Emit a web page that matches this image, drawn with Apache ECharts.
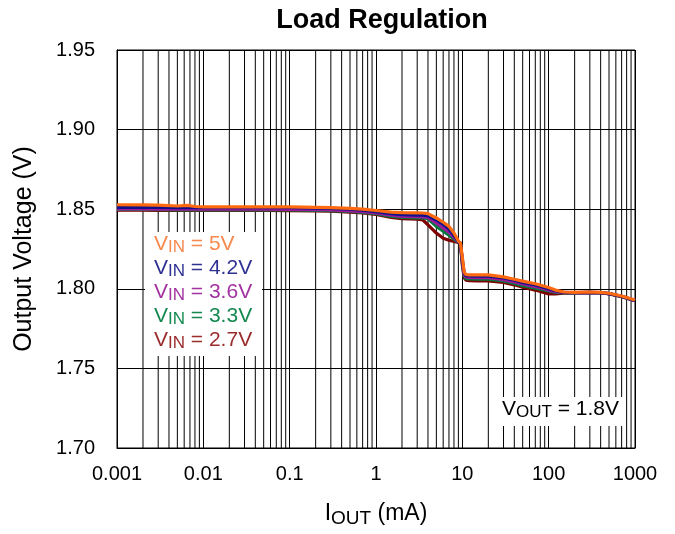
<!DOCTYPE html>
<html>
<head>
<meta charset="utf-8">
<script src="https://cdn.jsdelivr.net/npm/echarts@6/dist/echarts.min.js"></script>
<style>
html,body{margin:0;padding:0;background:#fff;}
#chart{width:675px;height:534px;}
</style>
</head>
<body>
<div id="chart"></div>
<script>
// ---- data ----
var iout = [0.001, 0.002, 0.003, 0.005, 0.0065, 0.008, 0.01, 0.02, 0.05, 0.1, 0.2, 0.3, 0.5, 0.7, 1, 1.5, 2, 3, 3.5, 4, 5, 6, 7, 8, 9, 9.5, 10, 10.5, 11, 12, 15, 20, 30, 40, 50, 70, 100, 120, 150, 200, 300, 400, 500, 700, 1000];
var vin5 = [1.8528,1.8527,1.8525,1.8520,1.8524,1.8517,1.8515,1.8515,1.8515,1.8514,1.8512,1.8510,1.8505,1.8500,1.8492,1.8482,1.8478,1.8477,1.8476,1.8472,1.8445,1.8418,1.8392,1.8350,1.8300,1.8288,1.8200,1.8105,1.8090,1.8088,1.8088,1.8087,1.8075,1.8060,1.8048,1.8032,1.8008,1.7992,1.7980,1.7977,1.7980,1.7977,1.7972,1.7955,1.7930];
var vin42 = [1.8512,1.8512,1.8511,1.8510,1.8511,1.8510,1.8510,1.8510,1.8510,1.8509,1.8507,1.8505,1.8500,1.8494,1.8485,1.8472,1.8465,1.8463,1.8462,1.8458,1.8432,1.8405,1.8375,1.8335,1.8296,1.8287,1.8185,1.8100,1.8083,1.8081,1.8080,1.8080,1.8068,1.8054,1.8040,1.8024,1.8000,1.7988,1.7977,1.7976,1.7978,1.7976,1.7970,1.7953,1.7927];
var vin36 = [1.8502,1.8502,1.8501,1.8500,1.8501,1.8500,1.8500,1.8500,1.8500,1.8499,1.8497,1.8495,1.8490,1.8485,1.8477,1.8462,1.8455,1.8453,1.8452,1.8448,1.8412,1.8382,1.8356,1.8322,1.8294,1.8287,1.8170,1.8090,1.8074,1.8071,1.8070,1.8070,1.8058,1.8043,1.8030,1.8014,1.7992,1.7982,1.7976,1.7976,1.7978,1.7976,1.7970,1.7953,1.7927];
var vin33 = [1.8498,1.8498,1.8497,1.8496,1.8497,1.8496,1.8496,1.8496,1.8496,1.8495,1.8493,1.8491,1.8486,1.8480,1.8472,1.8455,1.8448,1.8446,1.8445,1.8440,1.8392,1.8362,1.8336,1.8312,1.8293,1.8287,1.8160,1.8080,1.8064,1.8062,1.8061,1.8060,1.8050,1.8034,1.8020,1.8004,1.7986,1.7978,1.7975,1.7975,1.7977,1.7975,1.7969,1.7952,1.7926];
var vin27 = [1.8494,1.8494,1.8493,1.8492,1.8493,1.8492,1.8492,1.8492,1.8492,1.8491,1.8489,1.8487,1.8482,1.8476,1.8467,1.8448,1.8440,1.8438,1.8432,1.8402,1.8350,1.8318,1.8305,1.8298,1.8291,1.8287,1.8150,1.8070,1.8054,1.8051,1.8050,1.8050,1.8040,1.8025,1.8010,1.7992,1.7968,1.7968,1.7972,1.7974,1.7976,1.7975,1.7968,1.7951,1.7925];
var xTickLabels = ['0.001','0.01','0.1','1','10','100','1000'];
var yTickLabels = ['1.70','1.75','1.80','1.85','1.90','1.95'];
var minorGrid = [];
[0.001,0.01,0.1,1,10,100].forEach(function(d){ for (var m=2;m<=9;m++) minorGrid.push(+(d*m).toPrecision(3)); });
var seriesNames = ['2.7V','3.3V','3.6V','4.2V','5V'];
var seriesData = [vin27, vin33, vin36, vin42, vin5];
var lineColors = ['#7f0000','#007a3d','#9a1a9a','#10108a','#ff6a10'];
var textColors = ['#9b2c2c','#14894f','#a2329f','#2f3193','#f7884e'];

function pairs(ys){ return iout.map(function(x,i){ return [x, ys[i]]; }); }

var FONT = 'Liberation Sans, Arial, sans-serif';
var chart = echarts.init(document.getElementById('chart'), null, {renderer:'canvas'});

var series = [{
  type:'custom', z:1, silent:true,
  data: minorGrid.map(function(v){ return [v]; }),
  renderItem: function(params, api){
    var p1 = api.coord([api.value(0), 1.70]);
    var p2 = api.coord([api.value(0), 1.95]);
    return {type:'line', shape:{x1:p1[0],y1:p1[1],x2:p2[0],y2:p2[1]}, style:{stroke:'#000', lineWidth:1}};
  }
}];
seriesNames.forEach(function(n,i){
  series.push({
    name: n, type:'line', z: 5+i, data: pairs(seriesData[i]),
    showSymbol:false, symbol:'none', smooth:false,
    lineStyle:{color: lineColors[i], width:3.2}
  });
});

var legendOrder = [4,3,2,1,0];
var legendTexts = legendOrder.map(function(idx, k){
  return {
    type:'text', z:100, left:154, top: 234 + k*24,
    style:{
      text:'{v|V}{s|IN}{v| = ' + seriesNames[idx] + '}',
      rich:{
        v:{fontSize:21, fontFamily:FONT, fill:textColors[idx], verticalAlign:'bottom', padding:[0,0,1,0]},
        s:{fontSize:17, fontFamily:FONT, fill:textColors[idx], verticalAlign:'bottom'}
      }
    }
  };
});

var option = {
  backgroundColor:'#fff',
  animation:false,
  title:{
    text:'Load Regulation', left:377, top:2, textAlign:'center',
    textStyle:{fontSize:27, fontWeight:'bold', fontFamily:FONT, color:'#000'}
  },
  grid:{left:117, top:50, right:40, bottom:86, show:true, borderColor:'#000', borderWidth:1, backgroundColor:'#fff'},
  xAxis:{
    type:'log', logBase:10, min:0.001, max:1000,
    name:'{a|I}{b|OUT}{a| (mA)}', nameLocation:'middle', nameGap:54,
    nameTextStyle:{
      rich:{
        a:{fontSize:23, fontFamily:FONT, color:'#000', verticalAlign:'bottom', padding:[0,0,3,0]},
        b:{fontSize:19, fontFamily:FONT, color:'#000', verticalAlign:'bottom'}
      }
    },
    axisLine:{show:true, lineStyle:{color:'#000', width:1}},
    axisTick:{show:false},
    splitLine:{show:true, lineStyle:{color:'#000', width:1}},
    axisLabel:{
      fontSize:20, fontFamily:FONT, color:'#000', margin:16,
      formatter:function(v){ return xTickLabels[Math.round(Math.log10(v))+3]; }
    }
  },
  yAxis:{
    type:'value', min:1.70, max:1.95, interval:0.05,
    name:'Output Voltage (V)', nameLocation:'middle', nameGap:80,
    nameTextStyle:{fontSize:25, fontFamily:FONT, color:'#000'},
    axisLine:{show:true, lineStyle:{color:'#000', width:1}},
    axisTick:{show:false},
    splitLine:{show:true, lineStyle:{color:'#000', width:1}},
    axisLabel:{
      fontSize:20, fontFamily:FONT, color:'#000', margin:22,
      formatter:function(v){ return yTickLabels[Math.round((v-1.70)/0.05)]; }
    }
  },
  graphic:[
    {type:'rect', z:99, shape:{x:145, y:232, width:117, height:124}, style:{fill:'#fff'}}
  ].concat(legendTexts).concat([
    {type:'rect', z:99, shape:{x:497, y:397, width:129, height:29}, style:{fill:'#fff'}},
    {type:'text', z:100, left:502, top:399,
      style:{text:'{v|V}{s|OUT}{v| = 1.8V}',
        rich:{
          v:{fontSize:21, fontFamily:FONT, fill:'#000', verticalAlign:'bottom', padding:[0,0,1,0]},
          s:{fontSize:17, fontFamily:FONT, fill:'#000', verticalAlign:'bottom'}
        }}}
  ]),
  series: series
};
chart.setOption(option);
</script>
</body>
</html>
